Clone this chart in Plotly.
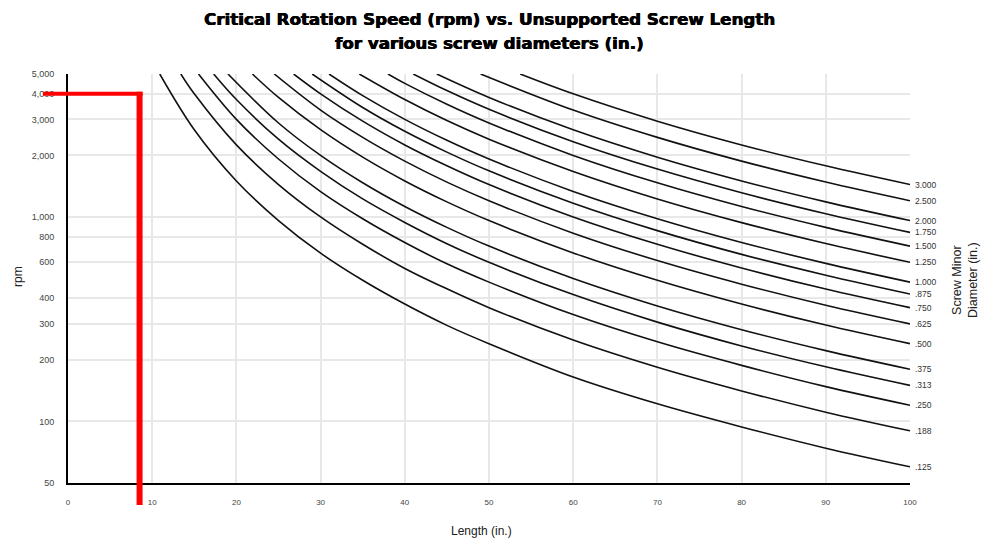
import numpy as np
import plotly.graph_objects as go

# Screw minor diameters (in.), as labelled at the right end of each curve
DIAMETER_LABELS = [".125", ".188", ".250", ".313", ".375", ".500", ".625", ".750",
                   ".875", "1.000", "1.250", "1.500", "1.750", "2.000", "2.500", "3.000"]

# Length (in.) at which each curve leaves the 5,000 rpm line
START_LENGTHS = [10.9, 13.4, 15.5, 17.3, 19.0, 21.9, 24.5, 26.8,
                 29.0, 31.0, 34.6, 38.0, 41.0, 43.8, 49.0, 53.7]
START_RPM = 5000

# Unsupported lengths (in.) at which the critical speed is read
LENGTHS = [15, 20, 25, 30, 35, 40, 45, 50, 60, 70, 80, 90, 100]

# Critical speed (rpm) per diameter at each length above (None = off the top)
RPM_0125 = [2670, 1500, 960, 665, 490, 375, 295, 240, 165, 122, 94, 74, 60]
RPM_0188 = [4000, 2250, 1440, 1000, 735, 560, 445, 360, 250, 184, 141, 111, 90]
RPM_0250 = [None, 3000, 1920, 1330, 980, 750, 590, 480, 333, 245, 188, 148, 120]
RPM_0313 = [None, 3750, 2400, 1670, 1225, 940, 740, 600, 417, 306, 234, 185, 150]
RPM_0375 = [None, 4500, 2880, 2000, 1470, 1125, 889, 720, 500, 367, 281, 222, 180]
RPM_0500 = [None, None, 3840, 2670, 1960, 1500, 1185, 960, 667, 490, 375, 296, 240]
RPM_0625 = [None, None, 4800, 3330, 2450, 1875, 1480, 1200, 833, 612, 469, 370, 300]
RPM_0750 = [None, None, None, 4000, 2940, 2250, 1780, 1440, 1000, 735, 563, 444, 360]
RPM_0875 = [None, None, None, 4670, 3430, 2625, 2075, 1680, 1167, 857, 656, 519, 420]
RPM_1000 = [None, None, None, None, 3920, 3000, 2370, 1920, 1333, 980, 750, 593, 480]
RPM_1250 = [None, None, None, None, 4900, 3750, 2960, 2400, 1667, 1224, 938, 741, 600]
RPM_1500 = [None, None, None, None, None, 4500, 3556, 2880, 2000, 1469, 1125, 889, 720]
RPM_1750 = [None, None, None, None, None, None, 4148, 3360, 2333, 1714, 1313, 1037, 840]
RPM_2000 = [None, None, None, None, None, None, 4741, 3840, 2667, 1959, 1500, 1185, 960]
RPM_2500 = [None, None, None, None, None, None, None, 4800, 3333, 2449, 1875, 1481, 1200]
RPM_3000 = [None, None, None, None, None, None, None, None, 4000, 2939, 2250, 1778, 1440]

RPM_SERIES = [RPM_0125, RPM_0188, RPM_0250, RPM_0313, RPM_0375, RPM_0500, RPM_0625,
              RPM_0750, RPM_0875, RPM_1000, RPM_1250, RPM_1500, RPM_1750, RPM_2000,
              RPM_2500, RPM_3000]

# Axis ticks
X_TICKS = [0, 10, 20, 30, 40, 50, 60, 70, 80, 90, 100]
Y_TICKS = [50, 100, 200, 300, 400, 600, 800, 1000, 2000, 3000, 4000, 5000]
Y_TICK_TEXT = ["50", "100", "200", "300", "400", "600", "800",
               "1,000", "2,000", "3,000", "4,000", "5,000"]

# Example reading marked in red: 8.5 in. screw at 4,000 rpm
MARK_LENGTH = 8.5
MARK_RPM = 4000

X_RANGE = [0, 100]
Y_RANGE = [np.log10(50), np.log10(5000)]

W, H = 982, 540
M = dict(l=68, r=72, t=74, b=57)
PLOT_W = W - M["l"] - M["r"]
PLOT_H = H - M["t"] - M["b"]

FONT = "Liberation Sans, Arial, sans-serif"
TITLE_FONT = "DejaVu Sans, Arial Black, sans-serif"
TITLE_SHADOW = "0.5px 0 0 #000000, -0.3px 0 0 #000000"

fig = go.Figure()

for label, start, rpm in zip(DIAMETER_LABELS, START_LENGTHS, RPM_SERIES):
    xs, ys = [start], [START_RPM]
    for length, value in zip(LENGTHS, rpm):
        if value is None or length - start < 1.5:
            continue
        xs.append(length)
        ys.append(value)
    fig.add_trace(go.Scatter(
        x=xs, y=ys, mode="lines", name=label,
        line=dict(color="#111111", width=1.6, shape="spline", smoothing=1.0),
        hoverinfo="x+y+name",
    ))
    # diameter label at the right end of the curve
    fig.add_annotation(
        x=xs[-1], y=np.log10(ys[-1]), xref="x", yref="y",
        text=label, showarrow=False, xanchor="left", yanchor="middle", xshift=3,
        font=dict(family=FONT, size=8.5, color="#333333"),
    )


def x_paper(v):
    return (v - X_RANGE[0]) / (X_RANGE[1] - X_RANGE[0])


def y_paper(v):
    return (np.log10(v) - Y_RANGE[0]) / (Y_RANGE[1] - Y_RANGE[0])


mark_xp = x_paper(MARK_LENGTH)
mark_yp = y_paper(MARK_RPM)

# Horizontal red guide, from the tick labels to the marked length
fig.add_shape(
    type="line", xref="paper", yref="paper",
    x0=-25 / PLOT_W, x1=mark_xp + 3 / PLOT_W, y0=mark_yp, y1=mark_yp,
    line=dict(color="#ff0000", width=4), layer="above",
)
# Vertical red guide, from the marked speed down past the axis
fig.add_shape(
    type="line", xref="paper", yref="paper",
    x0=mark_xp, x1=mark_xp, y0=-22 / PLOT_H, y1=mark_yp + 2 / PLOT_H,
    line=dict(color="#ff0000", width=6), layer="above",
)

# Title lines
fig.add_annotation(
    text="<b>Critical Rotation Speed (rpm) vs. Unsupported Screw Length</b>",
    xref="paper", yref="paper", x=0.5, y=1 + (74 - 19) / PLOT_H,
    showarrow=False, xanchor="center", yanchor="middle",
    font=dict(family=TITLE_FONT, size=16.7, color="#000000", shadow=TITLE_SHADOW),
)
fig.add_annotation(
    text="<b>for various screw diameters (in.)</b>",
    xref="paper", yref="paper", x=0.5, y=1 + (74 - 43) / PLOT_H,
    showarrow=False, xanchor="center", yanchor="middle",
    font=dict(family=TITLE_FONT, size=16.7, color="#000000", shadow=TITLE_SHADOW),
)

# Axis titles
fig.add_annotation(
    text="Length (in.)", xref="paper", yref="paper",
    x=(481 - M["l"]) / PLOT_W, y=-(531 - (H - M["b"])) / PLOT_H,
    showarrow=False, xanchor="center", yanchor="middle",
    font=dict(family=FONT, size=12, color="#222222"),
)
fig.add_annotation(
    text="rpm", xref="paper", yref="paper",
    x=(18 - M["l"]) / PLOT_W, y=((H - M["b"]) - 277) / PLOT_H,
    showarrow=False, xanchor="center", yanchor="middle", textangle=-90,
    font=dict(family=FONT, size=12, color="#222222"),
)
fig.add_annotation(
    text="Screw Minor<br>Diameter (in.)", xref="paper", yref="paper",
    x=(965 - M["l"]) / PLOT_W, y=((H - M["b"]) - 280) / PLOT_H,
    showarrow=False, xanchor="center", yanchor="middle", textangle=-90,
    font=dict(family=FONT, size=12.5, color="#222222"),
)

fig.update_layout(
    width=W, height=H, margin=M,
    paper_bgcolor="#ffffff", plot_bgcolor="#ffffff",
    showlegend=False,
    xaxis=dict(
        range=X_RANGE, tickvals=X_TICKS, ticks="", ticklabelstandoff=10,
        showgrid=True, gridcolor="#e8e8e8", gridwidth=1.5,
        showline=True, linecolor="#000000", linewidth=2,
        zeroline=False,
        tickfont=dict(family=FONT, size=8, color="#444444"),
    ),
    yaxis=dict(
        type="log", range=Y_RANGE, tickvals=Y_TICKS, ticktext=Y_TICK_TEXT, ticks="",
        ticklabelstandoff=10,
        showgrid=True, gridcolor="#e8e8e8", gridwidth=1.5,
        showline=True, linecolor="#000000", linewidth=2,
        zeroline=False,
        tickfont=dict(family=FONT, size=9, color="#444444"),
    ),
)

fig.write_html("out.html")
